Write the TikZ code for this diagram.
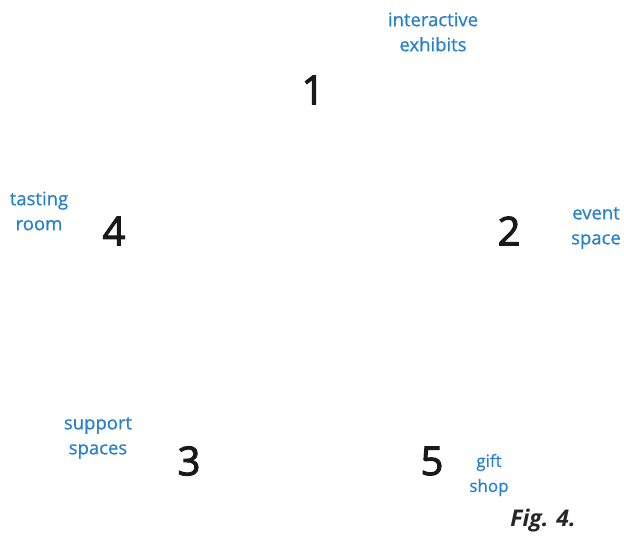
\documentclass[tikz,border=0pt]{standalone}
\usepackage{fontspec}
\setmainfont{Open Sans}
\newfontfamily\numfont[FakeBold=2.5]{Open Sans}
\newfontfamily\lblfont[FakeBold=0.6]{Open Sans}
\definecolor{lblue}{RGB}{38,128,208}
\begin{document}
\begin{tikzpicture}[x=1pt,y=-1pt,
  num/.style={font=\numfont\fontsize{40}{40}\selectfont, text=black!90},
  lbl/.style={font=\lblfont\fontsize{18.5}{25}\selectfont, text=lblue, align=center},
  fig/.style={font=\fontsize{23}{24}\selectfont\bfseries\itshape, text=black!85}]
\useasboundingbox (0,0) rectangle (624,544);
\node[num] (n1) at (313,90) {1};
\node[num] (n2) at (509,231) {2};
\node[num] (n4) at (114,231) {4};
\node[num] (n3) at (189,461) {3};
\node[num] (n5) at (432,461) {5};
\node[lbl] (l1) at (433,32) {interactive\\exhibits};
\node[lbl] (l2) at (596,228) {event\\space};
\node[lbl] (l4) at (39,211) {tasting\\room};
\node[lbl] (l3) at (98,438) {support\\spaces};
\node[lbl, font=\lblfont\fontsize{17}{25}\selectfont] (l5) at (489,475) {gift\\shop};
\node[fig] (f) at (543,521) {Fig. 4.};
\end{tikzpicture}
\end{document}
